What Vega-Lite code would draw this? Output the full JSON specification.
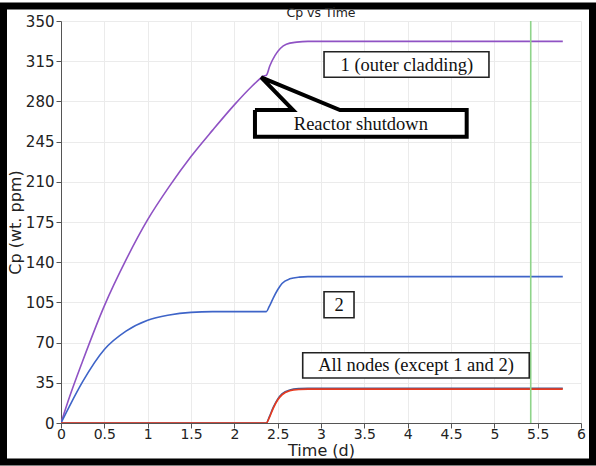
{
  "$schema": "https://vega.github.io/schema/vega-lite/v6.json",
  "width": 520,
  "height": 402,
  "autosize": {"type": "none"},
  "padding": {"left": 61, "top": 21, "right": 15, "bottom": 43},
  "background": "white",
  "title": {"text": "Cp vs Time", "fontSize": 12.5, "font": "DejaVu Sans", "fontWeight": "normal", "color": "#222", "anchor": "middle", "baseline": "alphabetic", "offset": -27.5},
  "data": {"values": [{}]},
  "config": {
    "view": {"stroke": null},
    "axis": {
      "labelFont": "DejaVu Sans", "labelFontSize": 15, "labelColor": "#222",
      "titleFont": "DejaVu Sans", "titleFontSize": 16, "titleFontWeight": "normal", "titleColor": "#222",
      "gridColor": "#ebebeb", "gridWidth": 1, "domainColor": "#555", "tickColor": "#555", "tickSize": 5, "labelPadding": 2
    }
  },
  "datasets": {
    "series": [
      {"s": "1", "t": 0, "c": 0}, {"s": "1", "t": 0.1, "c": 23}, {"s": "1", "t": 0.25, "c": 54}, {"s": "1", "t": 0.5, "c": 102},
      {"s": "1", "t": 0.75, "c": 142}, {"s": "1", "t": 1, "c": 177}, {"s": "1", "t": 1.25, "c": 206}, {"s": "1", "t": 1.5, "c": 232},
      {"s": "1", "t": 1.75, "c": 255}, {"s": "1", "t": 2, "c": 277}, {"s": "1", "t": 2.2, "c": 293}, {"s": "1", "t": 2.3, "c": 300},
      {"s": "1", "t": 2.33, "c": 302}, {"s": "1", "t": 2.37, "c": 302.8}, {"s": "1", "t": 2.41, "c": 311}, {"s": "1", "t": 2.47, "c": 320},
      {"s": "1", "t": 2.53, "c": 326}, {"s": "1", "t": 2.6, "c": 329.8}, {"s": "1", "t": 2.72, "c": 331.6}, {"s": "1", "t": 2.85, "c": 332.3},
      {"s": "1", "t": 5.79, "c": 332.3},
      {"s": "2", "t": 0, "c": 0}, {"s": "2", "t": 0.1, "c": 15}, {"s": "2", "t": 0.25, "c": 36}, {"s": "2", "t": 0.5, "c": 64},
      {"s": "2", "t": 0.75, "c": 80}, {"s": "2", "t": 1, "c": 89.5}, {"s": "2", "t": 1.25, "c": 94}, {"s": "2", "t": 1.5, "c": 96.3},
      {"s": "2", "t": 1.75, "c": 97}, {"s": "2", "t": 2.37, "c": 97}, {"s": "2", "t": 2.4, "c": 101}, {"s": "2", "t": 2.45, "c": 109},
      {"s": "2", "t": 2.5, "c": 116}, {"s": "2", "t": 2.55, "c": 121.5}, {"s": "2", "t": 2.64, "c": 125.5}, {"s": "2", "t": 2.75, "c": 127},
      {"s": "2", "t": 2.85, "c": 127.4}, {"s": "2", "t": 5.79, "c": 127.4},
      {"s": "3", "t": 0, "c": 0}, {"s": "3", "t": 2.37, "c": 0}, {"s": "3", "t": 2.4, "c": 4.8}, {"s": "3", "t": 2.45, "c": 13.8},
      {"s": "3", "t": 2.5, "c": 20.8}, {"s": "3", "t": 2.55, "c": 25.3}, {"s": "3", "t": 2.64, "c": 28.8}, {"s": "3", "t": 2.75, "c": 30},
      {"s": "3", "t": 2.85, "c": 30.3}, {"s": "3", "t": 5.79, "c": 30.3},
      {"s": "4", "t": 0, "c": 0}, {"s": "4", "t": 2.37, "c": 0}, {"s": "4", "t": 2.4, "c": 4}, {"s": "4", "t": 2.45, "c": 13},
      {"s": "4", "t": 2.5, "c": 20}, {"s": "4", "t": 2.55, "c": 24.5}, {"s": "4", "t": 2.64, "c": 28}, {"s": "4", "t": 2.75, "c": 29.2},
      {"s": "4", "t": 2.85, "c": 29.5}, {"s": "4", "t": 5.79, "c": 29.5}
    ],
    "callout": [
      {"k": 0, "t": 2.238, "c": 272.5}, {"k": 1, "t": 2.677, "c": 272.5}, {"k": 2, "t": 2.31, "c": 301}, {"k": 3, "t": 3.219, "c": 272.5},
      {"k": 4, "t": 4.681, "c": 272.5}, {"k": 5, "t": 4.681, "c": 249.3}, {"k": 6, "t": 2.238, "c": 249.3}, {"k": 7, "t": 2.238, "c": 272.5}
    ]
  },
  "layer": [
    {
      "data": {"name": "series"},
      "mark": {"type": "line", "interpolate": "monotone", "clip": true},
      "encoding": {
        "x": {"field": "t", "type": "quantitative", "scale": {"domain": [0, 6], "nice": false},
              "axis": {"title": "Time (d)", "values": [0, 0.5, 1, 1.5, 2, 2.5, 3, 3.5, 4, 4.5, 5, 5.5, 6], "format": "~g", "labelFontSize": 14, "labelPadding": -1, "titlePadding": 1, "labelFlush": false}},
        "y": {"field": "c", "type": "quantitative", "scale": {"domain": [0, 350], "nice": false},
              "axis": {"title": "Cp (wt. ppm)", "values": [0, 35, 70, 105, 140, 175, 210, 245, 280, 315, 350], "titlePadding": 2, "labelFlush": false}},
        "detail": {"field": "s"},
        "color": {"field": "s", "type": "nominal", "scale": {"domain": ["1", "2", "3", "4"], "range": ["#8f52c4", "#3e64c8", "#4a5a90", "#e83a1f"]}, "legend": null},
        "strokeWidth": {"field": "s", "type": "nominal", "scale": {"domain": ["1", "2", "3", "4"], "range": [1.6, 1.6, 2.2, 2.4]}, "legend": null}
      }
    },
    {
      "mark": {"type": "rule", "color": "#8fd48a", "strokeWidth": 1.6},
      "encoding": {"x": {"datum": 5.42, "type": "quantitative"}}
    },
    {
      "mark": {"type": "rect", "fill": "white", "stroke": "#222", "strokeWidth": 1.6},
      "encoding": {"x": {"datum": 3.035, "type": "quantitative"}, "x2": {"datum": 4.938}, "y": {"datum": 323.2, "type": "quantitative"}, "y2": {"datum": 301}}
    },
    {
      "mark": {"type": "text", "text": "1 (outer cladding)", "font": "Liberation Serif", "fontSize": 18.5, "color": "#111", "align": "center", "baseline": "middle"},
      "encoding": {"x": {"datum": 3.99, "type": "quantitative"}, "y": {"datum": 312, "type": "quantitative"}}
    },
    {
      "mark": {"type": "rect", "fill": "white", "stroke": "#222", "strokeWidth": 1.6},
      "encoding": {"x": {"datum": 3.035, "type": "quantitative"}, "x2": {"datum": 3.381}, "y": {"datum": 114.3, "type": "quantitative"}, "y2": {"datum": 91.7}}
    },
    {
      "mark": {"type": "text", "text": "2", "font": "Liberation Serif", "fontSize": 18.5, "color": "#111", "align": "center", "baseline": "middle"},
      "encoding": {"x": {"datum": 3.208, "type": "quantitative"}, "y": {"datum": 102.7, "type": "quantitative"}}
    },
    {
      "mark": {"type": "rect", "fill": "white", "stroke": "#222", "strokeWidth": 1.6},
      "encoding": {"x": {"datum": 2.789, "type": "quantitative"}, "x2": {"datum": 5.403}, "y": {"datum": 61.2, "type": "quantitative"}, "y2": {"datum": 39.2}}
    },
    {
      "mark": {"type": "text", "text": "All nodes (except 1 and 2)", "font": "Liberation Serif", "fontSize": 18.5, "color": "#111", "align": "center", "baseline": "middle"},
      "encoding": {"x": {"datum": 4.096, "type": "quantitative"}, "y": {"datum": 50.2, "type": "quantitative"}}
    },
    {
      "mark": {"type": "rect", "fill": "white"},
      "encoding": {"x": {"datum": 2.238, "type": "quantitative"}, "x2": {"datum": 4.681}, "y": {"datum": 272.5, "type": "quantitative"}, "y2": {"datum": 249.3}}
    },
    {
      "data": {"name": "callout"},
      "mark": {"type": "line", "color": "#000", "strokeWidth": 4, "strokeJoin": "miter", "interpolate": "linear"},
      "encoding": {
        "x": {"field": "t", "type": "quantitative"},
        "y": {"field": "c", "type": "quantitative"},
        "order": {"field": "k", "type": "quantitative"}
      }
    },
    {
      "mark": {"type": "text", "text": "Reactor shutdown", "font": "Liberation Serif", "fontSize": 18.5, "color": "#111", "align": "center", "baseline": "middle"},
      "encoding": {"x": {"datum": 3.46, "type": "quantitative"}, "y": {"datum": 260.5, "type": "quantitative"}}
    },
    {
      "mark": {"type": "rect", "filled": false, "stroke": "#000", "strokeWidth": 7},
      "encoding": {"x": {"datum": -0.6635, "type": "quantitative"}, "x2": {"datum": 6.1327}, "y": {"datum": 363.06, "type": "quantitative"}, "y2": {"datum": -33.96}}
    }
  ]
}
